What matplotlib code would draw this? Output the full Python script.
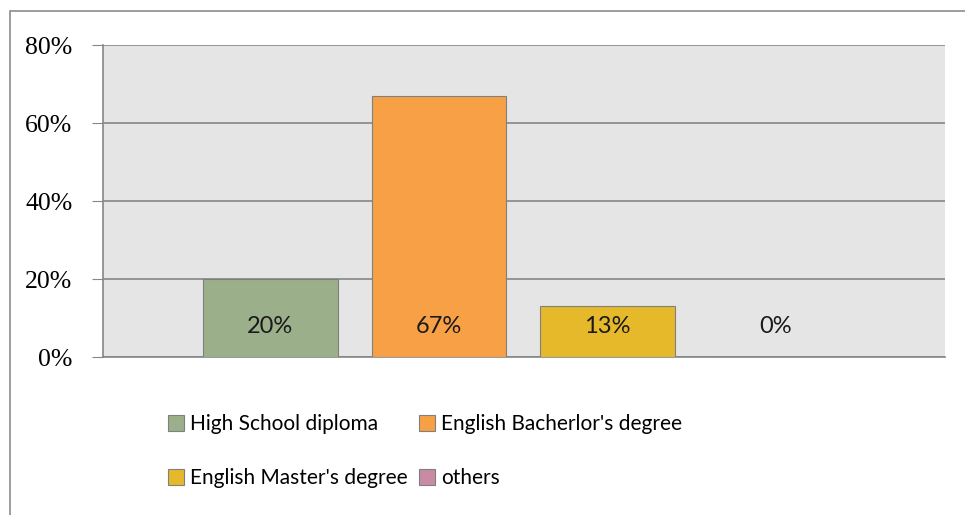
import numpy as np
import matplotlib.pyplot as plt
from matplotlib.patches import Rectangle

categories = ['High School diploma', "English Bacherlor's degree",
              "English Master's degree", 'others']
values = [20, 67, 13, 0]
colors = ['#9bb08a', '#f7a046', '#e6b92b', '#c98ba4']
yticks = [0, 20, 40, 60, 80]

label_font = ['Lato', 'DejaVu Sans']

fig = plt.figure(figsize=(9.65, 5.15), dpi=100)
fig.patches.append(Rectangle((10 / 965, -0.01), 1.0, 1 - 11 / 515 + 0.01,
                             transform=fig.transFigure, fill=False,
                             edgecolor='#8c8c8c', linewidth=1.2))

ax = fig.add_axes([103 / 965, 158 / 515, 842 / 965, 312 / 515])
ax.set_facecolor('#e5e5e5')

x = np.arange(len(values))
bars = ax.bar(x, values, width=0.8, color=colors, edgecolor='#7f7f7f',
              linewidth=0.8, zorder=3)
for xi, v in zip(x, values):
    ax.text(xi, 7.7, f'{v}%', ha='center', va='center', fontsize=17,
            family=label_font, color='#1a1a1a', zorder=4)

ax.set_xlim(-0.994, 4.003)
ax.set_ylim(0, 80)
ax.set_yticks(yticks)
ax.set_yticklabels([f'{t}%' for t in yticks], family='Liberation Serif',
                   fontsize=18.5)
ax.yaxis.grid(True, color='#868686', linewidth=1.2, zorder=0)
ax.set_xticks([])
ax.tick_params(axis='y', length=8, color='#868686', pad=14)
for side in ['top', 'right']:
    ax.spines[side].set_visible(False)
for side in ['left', 'bottom']:
    ax.spines[side].set_color('#868686')
    ax.spines[side].set_linewidth(1.2)

# legend fills row by row: two entries per row
order = [0, 2, 1, 3]
fig.legend(handles=[bars[i] for i in order],
           labels=[categories[i] for i in order], ncol=2, frameon=False,
           loc='upper left', bbox_to_anchor=(160 / 965, 1 - 406 / 515),
           prop={'family': label_font, 'size': 15}, handlelength=0.75,
           handleheight=0.85, handletextpad=0.3, columnspacing=0.55,
           labelspacing=1.62, borderaxespad=0)

fig.savefig('out.png', dpi=100)
